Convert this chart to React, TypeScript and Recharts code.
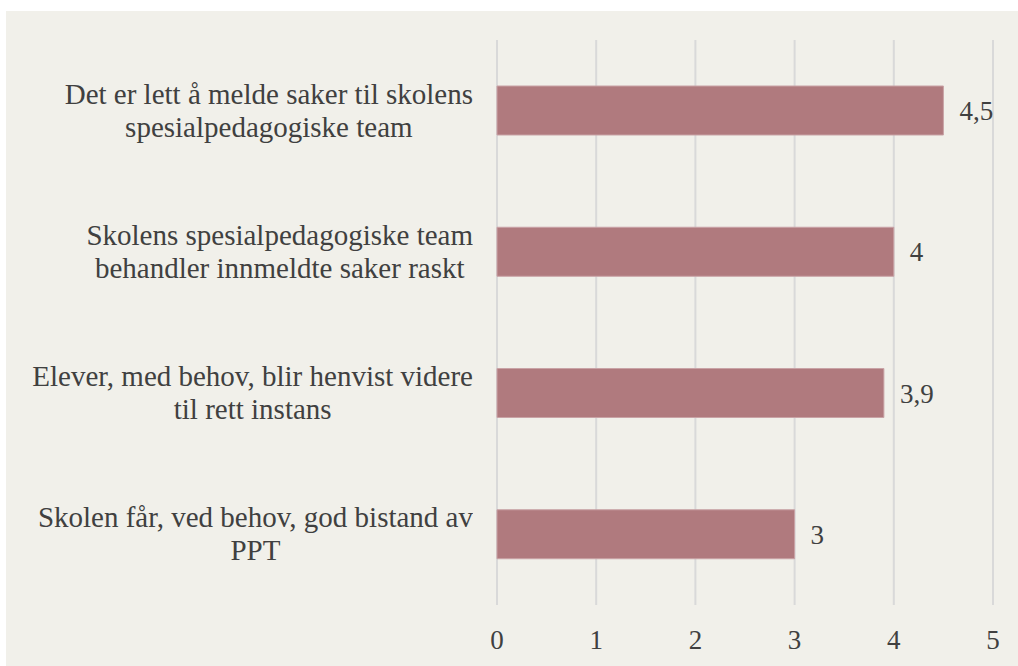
import { Bar, BarChart, CartesianGrid, LabelList, XAxis, YAxis } from "recharts";

const statements = [
  "Det er lett å melde saker til skolens\nspesialpedagogiske team",
  "Skolens spesialpedagogiske team\nbehandler innmeldte saker raskt",
  "Elever, med behov, blir henvist videre\ntil rett instans",
  "Skolen får, ved behov, god bistand av\nPPT",
];
const scores = [4.5, 4, 3.9, 3];
const xTicks = [0, 1, 2, 3, 4, 5];

const data = statements.map((label, i) => ({ label, value: scores[i] }));

const SERIF = "Liberation Serif";
const TEXT = "#404040";

// two-line statement, lines centred on each other, block right-aligned to the axis
function StatementTick({ x, y, payload }: any) {
  const boxW = x - 16;
  return (
    <foreignObject x={0} y={y - 50} width={boxW} height={100}>
      <div
        style={{
          height: "100%",
          display: "flex",
          justifyContent: "flex-end",
          alignItems: "center",
        }}
      >
        <span
          style={{
            display: "inline-block",
            textAlign: "center",
            whiteSpace: "pre-line",
            fontFamily: SERIF,
            fontSize: 29,
            lineHeight: "33px",
            color: TEXT,
          }}
        >
          {payload.value}
        </span>
      </div>
    </foreignObject>
  );
}

const formatScore = (v: any) => String(v).replace(".", ",");

export default function App() {
  return (
    <div
      style={{
        position: "absolute",
        left: 6,
        top: 11,
        width: 1012,
        height: 655,
        background: "#f1f0ea",
      }}
    >
      <BarChart
        width={1012}
        height={655}
        data={data}
        layout="vertical"
        margin={{ top: 29, right: 25, bottom: 0, left: 0 }}
        barCategoryGap={46}
      >
        <CartesianGrid stroke="#d9d9d9" strokeWidth={2} horizontal={false} />
        <XAxis
          type="number"
          domain={[0, 5]}
          ticks={xTicks}
          axisLine={false}
          tickLine={false}
          height={61}
          tick={{ fill: TEXT, fontSize: 27, fontFamily: SERIF, dy: 17 }}
        />
        <YAxis
          type="category"
          dataKey="label"
          width={491}
          axisLine={false}
          tickLine={false}
          tick={<StatementTick />}
        />
        <Bar dataKey="value" fill="#b07a7e" stroke="#c9a3a6" strokeWidth={1} isAnimationActive={false}>
          <LabelList
            dataKey="value"
            position="right"
            offset={16}
            formatter={formatScore}
            fill={TEXT}
            fontSize={27}
            fontFamily={SERIF}
          />
        </Bar>
      </BarChart>
    </div>
  );
}
